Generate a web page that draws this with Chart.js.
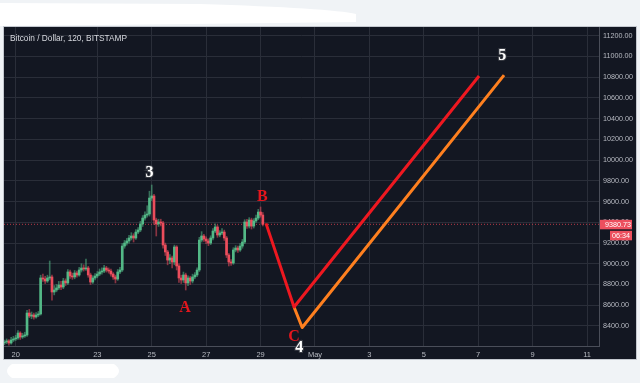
<!DOCTYPE html>
<html>
<head>
<meta charset="utf-8">
<title>Bitcoin / Dollar, 120, BITSTAMP</title>
<script src="https://cdn.jsdelivr.net/npm/chart.js@4.4.1/dist/chart.umd.min.js"></script>
<style>
    html, body { margin: 0; padding: 0; background: #f0f3f6; }
    canvas { display: block; }
</style>
</head>
<body>
<canvas id="btcChart" width="640" height="383"></canvas>
<script>
// 2h candles, BTC/USD Bitstamp. x is measured in days, day 0 = Apr 20 00:00
const firstCandleDay = -5 / 12;   // Apr 19 14:00
const candleStep = 1 / 12;        // 120 minutes

const firstOpen = 8236;
const closes = [
    8246, 8256, 8236, 8265, 8275, 8284, 8332, 8294, 8304, 8313,
    8525, 8496, 8506, 8487, 8506, 8516, 8863, 8853, 8834, 8863,
    8873, 8728, 8747, 8767, 8795, 8776, 8834, 8815, 8921, 8882,
    8873, 8911, 8892, 8940, 8959, 8950, 8959, 8892, 8824, 8863,
    8882, 8901, 8921, 8930, 8959, 8940, 8930, 8901, 8873, 8853,
    8921, 8940, 9171, 9200, 9220, 9249, 9268, 9249, 9306, 9326,
    9384, 9441, 9470, 9480, 9634, 9654, 9422, 9384, 9403, 9393,
    9181, 9114, 9036, 9056, 9017, 9162, 8979, 8863, 8844, 8892,
    8815, 8863, 8834, 8873, 8892, 8940, 9229, 9268, 9239, 9220,
    9200, 9249, 9316, 9355, 9278, 9297, 9306, 9249, 9085, 9017,
    9008, 9133, 9152, 9133, 9171, 9210, 9403, 9364, 9422, 9364,
    9413, 9441, 9499, 9470, 9380.73
];
const highs = [
    8265, 8275, 8270, 8290, 8300, 8310, 8355, 8345, 8330, 8340,
    8550, 8560, 8535, 8525, 8530, 8540, 8890, 8900, 8880, 8890,
    9027, 8890, 8790, 8800, 8830, 8830, 8860, 8855, 8945, 8940,
    8910, 8935, 8930, 8965, 9000, 8990, 9046, 8975, 8910, 8885,
    8905, 8925, 8950, 8960, 8985, 8975, 8960, 8950, 8915, 8890,
    8945, 8965, 9195, 9225, 9245, 9275, 9300, 9290, 9330, 9350,
    9410, 9465, 9500, 9560, 9700, 9760, 9670, 9440, 9430, 9430,
    9410, 9200, 9130, 9090, 9075, 9180, 9175, 9000, 8890, 8920,
    8910, 8885, 8880, 8900, 8915, 8960, 9255, 9310, 9285, 9260,
    9240, 9270, 9340, 9385, 9370, 9320, 9340, 9325, 9265, 9100,
    9040, 9155, 9175, 9170, 9195, 9235, 9425, 9430, 9445, 9440,
    9435, 9470, 9525, 9548, 9495
];
const lows = [
    8220, 8230, 8215, 8225, 8250, 8260, 8270, 8270, 8280, 8290,
    8300, 8480, 8470, 8465, 8475, 8490, 8505, 8830, 8810, 8820,
    8845, 8650, 8700, 8730, 8750, 8750, 8760, 8790, 8800, 8860,
    8850, 8855, 8870, 8880, 8920, 8930, 8935, 8870, 8800, 8810,
    8845, 8865, 8885, 8900, 8915, 8920, 8910, 8880, 8850, 8815,
    8840, 8905, 8925, 9150, 9180, 9200, 9230, 9210, 9235, 9290,
    9310, 9360, 9420, 9450, 9460, 9610, 9380, 9268, 9360, 9365,
    9150, 9080, 8990, 9000, 8960, 8990, 8940, 8820, 8810, 8820,
    8747, 8790, 8800, 8815, 8855, 8875, 8925, 9210, 9215, 9195,
    9175, 9185, 9230, 9300, 9255, 9260, 9280, 9225, 9060, 8979,
    8985, 8995, 9115, 9110, 9120, 9150, 9195, 9340, 9345, 9335,
    9345, 9400, 9425, 9450, 9365
];

// axis ticks
const xTickDays = [0, 3, 5, 7, 9, 11, 13, 15, 17, 19, 21];
const xTickLabels = ['20', '23', '25', '27', '29', 'May', '3', '5', '7', '9', '11'];
const yTickValues = [8400, 8600, 8800, 9000, 9200, 9400, 9600, 9800,
    10000, 10200, 10400, 10600, 10800, 11000, 11200];

const lastPrice = 9380.73;
const barCountdown = '06:34';

// hand drawn projection
const redPathDays = [9.2, 10.23, 17.03];
const redPathPrices = [9390, 8583, 10811];
const orangePathDays = [10.23, 10.53, 17.95];
const orangePathPrices = [8583, 8385, 10820];

// wave count labels
const waveLabels = ['3', 'A', 'B', 'C', '4', '5'];
const waveDays = [4.92, 6.22, 9.07, 10.23, 10.42, 17.88];
const wavePrices = [9875, 8574, 9649, 8294, 8188, 11008];

const UP = '#53b987';
const DOWN = '#eb4d5c';
const labelColors = { '3': '#ffffff', '4': '#ffffff', '5': '#ffffff', 'A': '#e3161d', 'B': '#e3161d', 'C': '#e3161d' };
const axisFont = '"Liberation Sans", Arial, sans-serif';

// build candle points
const opens = closes.map((c, i) => i === 0 ? firstOpen : closes[i - 1]);
const times = closes.map((c, i) => firstCandleDay + i * candleStep);
const isUp = closes.map((c, i) => c >= opens[i]);

const bodyData = times.map((t, i) => ({ x: t, y: [opens[i], closes[i]] }));
const wickData = times.map((t, i) => ({ x: t, y: [lows[i], highs[i]] }));
const toPoints = (days, prices) => days.map((d, i) => ({ x: d, y: prices[i] }));

const xMin = -0.43, xMax = 21.44;
const yMin = 8207, yMax = 11284;

// light page, white smudges and dark chart panel
const backdropPlugin = {
    id: 'backdrop',
    beforeDraw(chart) {
        const ctx = chart.ctx;
        const area = chart.chartArea;
        ctx.save();
        ctx.fillStyle = '#f0f3f6';
        ctx.fillRect(0, 0, chart.width, chart.height);

        ctx.fillStyle = '#ffffff';
        ctx.beginPath();
        ctx.moveTo(0, 3);
        ctx.lineTo(200, 4);
        ctx.quadraticCurveTo(330, 8, 356, 14);
        ctx.lineTo(356, 22);
        ctx.quadraticCurveTo(200, 24, 0, 26);
        ctx.closePath();
        ctx.fill();

        ctx.beginPath();
        ctx.moveTo(12, 364);
        ctx.lineTo(114, 364);
        ctx.quadraticCurveTo(124, 371, 114, 378);
        ctx.lineTo(12, 378);
        ctx.quadraticCurveTo(2, 371, 12, 364);
        ctx.fill();

        ctx.fillStyle = '#131722';
        ctx.fillRect(area.left, area.top, 636 - area.left, 359 - area.top);
        ctx.strokeStyle = '#c4c8cf';
        ctx.lineWidth = 1;
        ctx.strokeRect(area.left - 0.5, area.top - 0.5, 636 - area.left + 1, 359 - area.top + 1);
        ctx.restore();
    }
};

// title, wave labels and the price tag on the axis
const overlayPlugin = {
    id: 'overlay',
    afterDraw(chart) {
        const ctx = chart.ctx;
        const x = chart.scales.x;
        const y = chart.scales.y;
        const area = chart.chartArea;
        ctx.save();

        ctx.font = '8.3px ' + axisFont;
        ctx.fillStyle = '#d6d8de';
        ctx.textAlign = 'left';
        ctx.textBaseline = 'middle';
        ctx.fillText('Bitcoin / Dollar, 120, BITSTAMP', area.left + 6, 38.5);

        ctx.font = 'bold 16px "Liberation Serif", "DejaVu Serif", serif';
        ctx.textAlign = 'center';
        waveLabels.forEach((label, i) => {
            const px = x.getPixelForValue(waveDays[i]);
            const py = y.getPixelForValue(wavePrices[i]);
            const color = labelColors[label];
            if (color === '#ffffff') {
                ctx.lineWidth = 2;
                ctx.strokeStyle = '#3a3d45';
                ctx.strokeText(label, px, py);
            }
            ctx.fillStyle = color;
            ctx.fillText(label, px, py);
        });

        // last price tag
        const py = y.getPixelForValue(lastPrice);
        ctx.fillStyle = '#ec4f5e';
        ctx.fillRect(area.right + 1, py - 4.5, 32, 9.5);
        ctx.fillRect(area.right + 11, py + 6.5, 22, 9.5);
        ctx.font = '7.2px ' + axisFont;
        ctx.fillStyle = '#ffffff';
        ctx.textAlign = 'right';
        ctx.fillText(lastPrice.toFixed(2), area.right + 32, py + 0.5);
        ctx.fillText(barCountdown, area.right + 31, py + 11.5);
        ctx.restore();
    }
};

const ctx = document.getElementById('btcChart');

new Chart(ctx, {
    type: 'bar',
    data: {
        datasets: [
            {
                type: 'line',
                label: 'Projection red',
                data: toPoints(redPathDays, redPathPrices),
                borderColor: '#ee1820',
                borderWidth: 3,
                pointRadius: 0,
                tension: 0,
                borderJoinStyle: 'round',
                order: 0
            },
            {
                type: 'line',
                label: 'Projection orange',
                data: toPoints(orangePathDays, orangePathPrices),
                borderColor: '#ff801f',
                borderWidth: 3,
                pointRadius: 0,
                tension: 0,
                borderJoinStyle: 'round',
                order: 1
            },
            {
                label: 'Body',
                data: bodyData,
                backgroundColor: isUp.map(u => u ? UP : DOWN),
                barThickness: 2,
                minBarLength: 1,
                grouped: false,
                order: 2
            },
            {
                label: 'Wick',
                data: wickData,
                backgroundColor: isUp.map(u => u ? 'rgba(83,185,135,0.55)' : 'rgba(235,77,92,0.55)'),
                barThickness: 1,
                grouped: false,
                order: 3
            },
            {
                type: 'line',
                label: 'Last price',
                data: [{ x: xMin, y: lastPrice }, { x: xMax, y: lastPrice }],
                borderColor: 'rgba(214,62,78,0.85)',
                borderWidth: 1,
                borderDash: [1, 2],
                pointRadius: 0,
                order: 4
            }
        ]
    },
    options: {
        responsive: false,
        animation: false,
        layout: { padding: { top: 27, left: 4, right: 0, bottom: 0 } },
        plugins: {
            legend: { display: false },
            title: { display: false },
            tooltip: { enabled: false }
        },
        scales: {
            x: {
                type: 'linear',
                min: xMin,
                max: xMax,
                offset: false,
                afterBuildTicks: scale => {
                    scale.ticks = xTickDays.map(v => ({ value: v }));
                },
                afterFit: scale => { scale.height = 37; },
                grid: { color: '#2a2e39', drawTicks: false, offset: false },
                border: { display: true, color: '#4a4e59' },
                ticks: {
                    autoSkip: false,
                    maxRotation: 0,
                    padding: 4,
                    color: '#b7bac2',
                    font: { family: axisFont, size: 7.5 },
                    callback: (value, index) => xTickLabels[index]
                }
            },
            y: {
                position: 'right',
                min: yMin,
                max: yMax,
                beginAtZero: false,
                afterBuildTicks: scale => {
                    scale.ticks = yTickValues.map(v => ({ value: v }));
                },
                afterFit: scale => { scale.width = 41; },
                grid: { color: '#2a2e39', drawTicks: false },
                border: { display: true, color: '#4a4e59' },
                ticks: {
                    padding: 4,
                    color: '#b7bac2',
                    font: { family: axisFont, size: 7.2 },
                    callback: value => Number(value).toFixed(2)
                }
            }
        }
    },
    plugins: [backdropPlugin, overlayPlugin]
});
</script>
</body>
</html>
